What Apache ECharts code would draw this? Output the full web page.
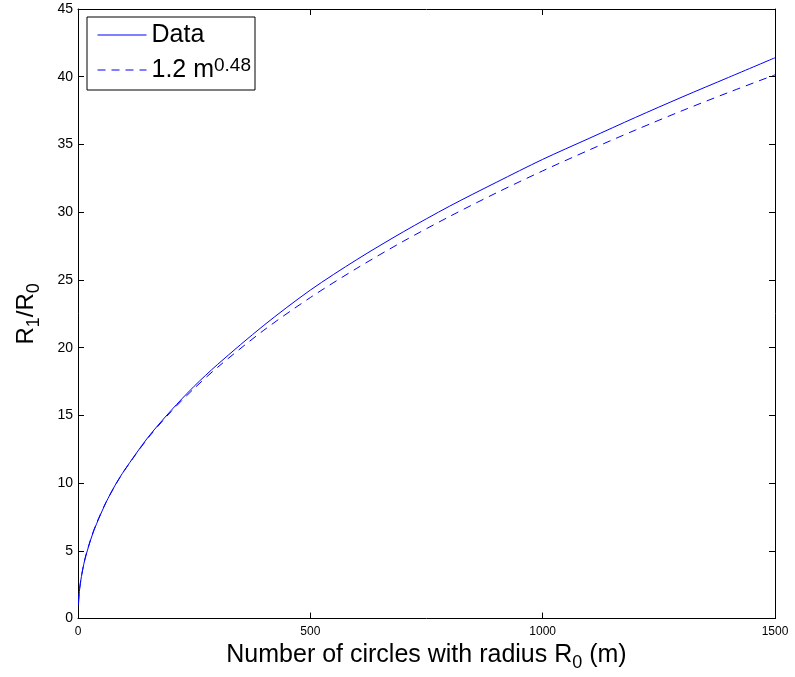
<!DOCTYPE html>
<html>
<head>
<meta charset="utf-8">
<script src="https://cdn.jsdelivr.net/npm/echarts@6/dist/echarts.min.js"></script>
<style>
  html, body { margin: 0; padding: 0; background: #fff; }
  #chart { width: 795px; height: 677px; }
</style>
</head>
<body>
<div id="chart"></div>
<script>
// Number of circles m
const mValues = [1, 2, 3, 5, 10, 15, 20, 30, 40, 60, 80, 100, 150, 200, 250, 300,
  400, 500, 600, 700, 800, 900, 1000, 1100, 1200, 1300, 1400, 1500];
// Measured R1/R0
const dataValues = [1.0, 1.6, 2.0, 2.6, 3.6, 4.4, 5.0, 6.1, 7.0, 8.55, 9.85, 10.95, 13.35, 15.35,
  17.15, 18.75, 21.65, 24.25, 26.5, 28.55, 30.45, 32.2, 33.9, 35.45, 37.0, 38.5, 39.95, 41.4];
// Power-law fit 1.2 m^0.48
const fitValues = [1.2, 1.67, 2.03, 2.6, 3.62, 4.4, 5.05, 6.14, 7.05, 8.57, 9.83, 10.94, 13.3, 15.27,
  16.99, 18.54, 21.29, 23.7, 25.86, 27.85, 29.69, 31.42, 33.05, 34.59, 36.07, 37.49, 38.84, 40.14];

const xTicks = { min: 0, max: 1500, interval: 500 };
const yTicks = { min: 0, max: 45, interval: 5 };

const FONT = 'Liberation Sans, Arial, Helvetica, sans-serif';

const pairs = (ys) => mValues.map((m, i) => [m, ys[i]]);

const frameAxis = {
  axisLine: { show: true, onZero: false, lineStyle: { color: '#000', width: 1 } },
  axisTick: { show: true, inside: true, length: 6, lineStyle: { color: '#000', width: 1 } },
  splitLine: { show: false }
};

const chart = echarts.init(document.getElementById('chart'), null, { renderer: 'canvas' });

chart.setOption({
  backgroundColor: '#fff',
  animation: false,
  grid: { left: 78, right: 20, top: 9, bottom: 57, containLabel: false },
  legend: {
    left: 87,
    top: 17,
    orient: 'vertical',
    backgroundColor: '#fff',
    borderColor: '#000',
    borderWidth: 1,
    borderRadius: 0,
    padding: [4, 4, 6, 10],
    itemGap: 7,
    itemWidth: 49,
    itemHeight: 14,
    selectedMode: false,
    // line-only keys: hide the marker drawn on the legend line
    itemStyle: { opacity: 0 },
    lineStyle: { width: 1 },
    data: ['Data', 'Fit'],
    formatter: (name) => name === 'Fit' ? '1.2 m{sup|0.48}' : name,
    textStyle: {
      fontFamily: FONT,
      fontSize: 25,
      color: '#000',
      lineHeight: 28,
      rich: {
        sup: { fontFamily: FONT, fontSize: 19, color: '#000', verticalAlign: 'top', lineHeight: 28 }
      }
    }
  },
  xAxis: [
    Object.assign({
      type: 'value',
      position: 'bottom',
      min: xTicks.min, max: xTicks.max, interval: xTicks.interval,
      name: 'Number of circles with radius R{sub|0} (m)',
      nameLocation: 'middle',
      nameGap: 16,
      nameTextStyle: {
        fontFamily: FONT, fontSize: 25, color: '#000',
        rich: { sub: { fontFamily: FONT, fontSize: 18, color: '#000', padding: [16, 0, 0, 0] } }
      },
      axisLabel: { fontFamily: FONT, fontSize: 12, color: '#000', margin: 7, formatter: (v) => String(v) }
    }, frameAxis),
    Object.assign({
      type: 'value',
      position: 'top',
      min: xTicks.min, max: xTicks.max, interval: xTicks.interval,
      axisLabel: { show: false }
    }, frameAxis)
  ],
  yAxis: [
    Object.assign({
      type: 'value',
      position: 'left',
      min: yTicks.min, max: yTicks.max, interval: yTicks.interval,
      name: 'R{sub|1}/R{sub|0}',
      nameLocation: 'middle',
      nameGap: 35,
      nameRotate: 90,
      nameTextStyle: {
        fontFamily: FONT, fontSize: 24, color: '#000',
        rich: { sub: { fontFamily: FONT, fontSize: 18, color: '#000', padding: [16, 0, 0, 0] } }
      },
      axisLabel: { fontFamily: FONT, fontSize: 14, color: '#000', margin: 5 }
    }, frameAxis),
    Object.assign({
      type: 'value',
      position: 'right',
      min: yTicks.min, max: yTicks.max, interval: yTicks.interval,
      axisLabel: { show: false }
    }, frameAxis)
  ],
  series: [
    {
      name: 'Data',
      type: 'line',
      data: pairs(dataValues),
      symbol: 'none',
      smooth: 0.3,
      lineStyle: { color: '#0000ff', width: 1 },
      itemStyle: { color: '#0000ff' },
      z: 3
    },
    {
      name: 'Fit',
      type: 'line',
      data: pairs(fitValues),
      symbol: 'none',
      smooth: 0.3,
      lineStyle: { color: '#0000ff', width: 1, type: [8, 6] },
      itemStyle: { color: '#0000ff' },
      z: 2
    }
  ]
});
</script>
</body>
</html>
